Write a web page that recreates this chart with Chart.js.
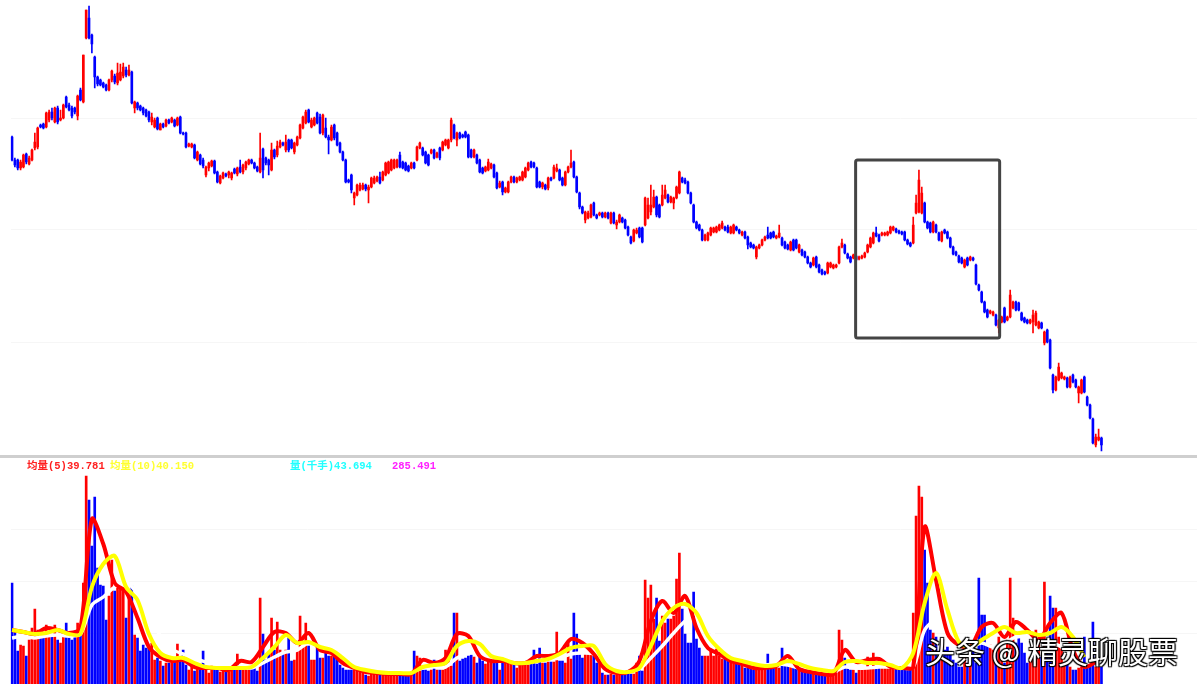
<!DOCTYPE html>
<html>
<head>
<meta charset="utf-8">
<script src="https://cdn.jsdelivr.net/npm/chart.js@4"></script>
<style>
    html, body { margin: 0; padding: 0; background: #fff; }
    #page { position: relative; width: 1197px; height: 686px; overflow: hidden; }
    canvas { position: absolute; left: 0; filter: blur(0.4px); }
    #priceChart { top: 0; }
    #volumeChart { top: 458px; }
    #divider { position: absolute; left: 0; top: 455px; width: 1197px; height: 3px; background: #cfcfcf; }
    .legend { position: absolute; top: 460px; font: bold 10.5px/12px "Liberation Mono", "Noto Sans CJK SC", monospace; white-space: nowrap; }
    #watermark { position: absolute; left: 925px; top: 628px; font: 30px/44px "Noto Sans CJK SC", sans-serif; color: #fff; white-space: nowrap;
        text-shadow: 1px 1px 1px #000, -1px 1px 1px #000, 1px -1px 1px #000, -1px -1px 1px #000; }
</style>
</head>
<body>
<div id="page">
    <canvas id="priceChart" width="1197" height="455"></canvas>
    <div id="divider"></div>
    <canvas id="volumeChart" width="1197" height="226"></canvas>
    <span class="legend" style="left:27px;color:#ff2020">均量(5)39.781</span>
    <span class="legend" style="left:110px;color:#ffff30">均量(10)40.150</span>
    <span class="legend" style="left:290px;color:#20ffff">量(千手)43.694</span>
    <span class="legend" style="left:392px;color:#ff20ff">285.491</span>
    <div id="watermark">头条 <span style="margin-right:8px">@</span>精灵聊股票</div>
</div>
<script>
// Candles. The price axis has no labels, so the units are arbitrary
const opens = [
    318,295,295,287,288,301,291,295,307,308,330,331,328,335,343,333,347,335,337,358,350,
    347,347,339,365,353,417,437,420,398,378,375,372,370,365,375,379,372,375,379,385,
    380,383,347,352,349,347,345,343,333,328,337,325,331,329,335,333,335,330,338,322,
    322,309,308,310,295,300,295,280,287,289,294,283,272,277,281,280,277,286,281,
    288,283,287,291,295,292,288,283,306,297,295,285,305,300,308,312,305,315,315,303,
    310,317,327,332,345,328,330,342,338,322,327,318,315,330,322,312,303,295,275,280,
    257,260,265,266,270,265,268,272,274,278,275,280,282,285,287,288,300,293,292,289,
    287,292,295,307,307,303,300,302,305,298,307,305,310,307,315,330,315,322,320,323,
    320,305,298,300,295,287,284,285,287,290,282,268,273,263,263,273,278,273,275,275,
    278,285,293,292,287,273,268,270,267,277,277,284,285,277,270,283,288,293,278,262,
    248,235,237,238,252,240,240,242,238,242,232,242,230,233,237,235,228,218,214,222,
    227,227,230,237,243,248,258,250,250,257,260,253,252,257,262,277,275,273,262,250,
    233,230,225,215,215,220,223,223,225,227,228,228,222,222,228,225,220,223,218,212,
    210,198,207,210,215,220,222,223,217,218,217,213,210,205,215,215,203,205,203,198,
    192,190,198,190,185,183,182,188,187,188,192,208,210,201,198,197,199,196,197,198,
    203,208,212,222,220,220,220,220,222,225,226,224,223,223,215,212,212,242,243,242,
    252,233,232,223,230,222,214,225,223,217,208,203,199,197,188,197,195,197,190,170,
    163,153,145,142,140,140,127,133,147,135,138,147,153,152,142,137,135,132,133,130,
    127,132,112,125,115,80,65,75,77,76,77,68,80,75,62,62,78,58,50,36,
    10,15,17
];
const closes = [
    295,290,287,293,300,293,297,305,313,327,328,327,342,343,337,347,333,337,350,348,345,
    339,343,359,355,400,445,417,411,378,371,370,368,365,375,384,373,382,383,388,380,
    385,352,353,347,345,342,339,335,338,335,326,331,328,335,332,337,329,337,322,321,
    308,311,311,297,303,291,289,288,292,294,282,273,279,282,279,283,282,282,287,
    283,290,293,295,292,287,284,297,285,292,290,305,298,309,313,310,313,305,307,312,
    318,330,338,343,333,335,337,332,322,340,318,315,328,317,310,303,295,273,273,265,
    262,270,270,270,266,268,277,277,278,272,283,292,293,295,295,295,288,287,285,284,
    292,287,308,312,300,292,290,305,297,302,297,313,315,315,335,317,322,317,318,318,
    298,298,305,292,283,282,288,293,291,278,267,272,263,267,273,278,273,277,278,283,
    287,292,288,288,268,268,272,266,277,275,288,287,275,270,283,288,292,278,263,248,
    242,243,242,250,240,237,242,238,242,237,242,232,233,240,233,227,220,212,225,225,
    218,213,257,250,250,258,240,238,260,265,253,258,257,268,283,273,272,262,252,233,
    227,225,215,220,222,227,227,228,230,232,225,223,228,230,225,222,223,217,210,208,
    207,208,210,215,218,217,217,218,219,222,210,207,206,213,205,207,210,200,198,192,
    188,197,188,183,181,181,192,192,190,190,208,212,202,197,193,200,195,198,199,202,
    210,217,222,219,214,222,222,223,228,228,223,222,221,215,211,209,230,252,275,262,
    233,227,223,233,223,215,223,222,217,208,201,200,193,192,195,190,198,195,171,165,
    153,143,138,144,143,130,135,138,133,138,160,153,145,145,135,133,132,135,140,142,
    133,127,123,113,87,65,78,88,82,78,68,78,73,68,68,75,63,50,37,12,
    18,18,10
];
const highs = [
    319,297,296,295,301,302,299,306,322,328,331,332,343,345,347,348,349,345,351,359,352,
    349,348,360,367,400,445,449,421,399,379,376,373,371,376,385,381,392,391,392,388,
    390,384,354,353,350,348,346,344,342,337,338,332,332,336,336,338,336,338,339,323,
    323,312,312,311,304,301,297,289,293,295,295,284,280,283,282,284,283,287,288,
    295,291,294,296,296,293,289,322,307,298,296,312,306,314,315,313,320,316,316,313,
    319,331,339,345,346,337,338,343,341,341,337,320,330,331,323,313,304,296,276,281,
    263,271,272,272,271,270,278,279,279,283,284,293,294,296,296,296,303,294,293,290,
    293,293,309,313,308,304,301,306,306,303,308,314,316,316,337,331,323,323,321,324,
    321,306,306,301,296,288,289,296,292,291,283,274,274,268,274,279,279,278,279,284,
    288,293,294,293,288,274,273,271,278,278,290,291,286,278,284,289,305,294,279,263,
    249,244,244,251,253,241,243,243,243,243,243,243,235,241,238,236,229,219,226,227,
    228,228,258,257,270,265,259,251,270,270,261,259,258,269,284,278,277,274,263,251,
    234,231,226,221,223,228,228,229,231,234,229,230,229,231,229,226,224,224,219,213,
    211,209,211,216,219,228,223,224,220,230,218,214,211,214,216,216,211,206,204,199,
    193,198,199,191,186,184,193,193,191,191,209,216,211,202,199,201,200,199,200,203,
    211,218,223,228,221,223,223,224,229,229,227,225,224,224,216,213,238,260,285,268,
    253,234,233,234,231,223,224,226,224,218,209,204,200,198,196,198,199,198,191,171,
    164,154,146,145,144,141,136,139,148,139,165,154,154,153,143,138,136,136,145,144,
    134,133,124,126,116,81,79,92,83,79,78,79,81,76,69,76,79,59,51,37,
    21,26,18
];
const lows = [
    294,288,285,285,287,291,290,294,305,306,327,326,327,333,335,332,331,334,336,347,344,
    337,341,335,354,352,416,416,402,367,369,369,367,364,364,373,371,370,374,377,378,
    379,351,342,345,344,340,338,333,330,327,325,325,327,328,331,332,328,329,321,320,
    307,308,307,296,294,290,287,278,284,288,281,272,271,276,278,277,275,281,279,
    282,281,285,290,291,286,283,282,277,290,280,284,296,298,307,309,303,303,306,301,
    309,316,326,331,332,327,329,331,321,320,317,301,314,315,309,302,294,272,272,262,
    250,259,264,265,264,252,267,271,273,271,274,279,281,284,286,287,287,286,284,283,
    286,286,294,306,299,291,289,301,296,297,295,304,309,306,313,316,309,316,317,317,
    297,297,297,291,282,281,283,284,286,277,266,267,260,262,262,272,272,272,274,274,
    277,284,287,287,267,267,266,265,265,274,276,283,274,269,269,282,287,277,262,246,
    241,232,236,237,239,236,239,237,237,236,231,231,226,232,232,226,219,211,213,221,
    217,212,229,236,240,247,238,237,249,256,252,252,246,256,261,272,271,261,251,232,
    226,224,214,214,214,219,222,222,224,226,224,222,221,221,224,221,219,216,206,207,
    206,196,206,209,214,216,216,217,216,217,209,206,205,204,204,206,202,199,197,191,
    187,189,187,182,180,180,181,187,186,187,191,207,201,196,192,196,194,195,196,197,
    202,207,211,218,213,219,219,219,221,224,222,221,220,214,210,208,211,241,242,241,
    232,226,222,222,222,214,213,221,216,207,200,199,192,191,187,189,194,194,170,164,
    152,142,137,141,139,129,122,132,132,134,137,146,144,144,134,132,131,131,122,129,
    126,126,110,112,86,62,64,74,76,75,67,67,72,67,52,61,62,49,36,11,
    8,14,4
];

// Volume per bar
const volumes = [
    101,53,33,39,38,28,44,56,75,54,46,46,59,49,49,59,44,41,49,61,
    46,44,48,61,49,101,208,184,138,187,116,99,98,64,88,124,93,96,96,94,
    66,89,98,49,46,33,39,36,36,41,24,26,23,18,21,21,21,26,40,23,
    34,19,14,22,13,18,15,33,15,11,18,16,16,12,14,14,12,14,
    16,30,16,16,16,16,16,16,13,86,50,24,31,66,34,62,34,31,34,46,
    23,24,34,68,38,61,38,24,24,36,26,26,35,28,28,28,28,19,16,14,
    14,14,14,14,13,11,9,8,11,11,10,10,10,10,11,11,11,
    9,9,11,10,10,10,33,28,26,14,14,13,14,24,14,14,14,34,24,
    18,71,71,23,25,26,28,29,27,21,27,23,20,25,23,23,23,14,21,21,
    21,21,20,16,19,19,19,20,20,34,20,36,21,21,22,22,22,52,23,23,
    21,41,25,71,50,30,26,31,31,31,28,21,20,11,9,9,10,9,9,10,
    10,10,10,10,10,21,28,13,104,86,99,65,86,43,68,61,65,65,68,
    105,131,75,50,41,41,92,45,36,28,28,28,35,28,35,28,25,26,23,23,
    21,21,20,20,16,16,16,14,14,15,15,16,30,16,16,16,16,36,20,20,
    19,18,16,14,14,13,12,12,11,11,11,10,8,11,11,11,11,
    54,44,26,16,14,14,11,14,14,16,27,17,31,16,16,16,19,17,17,16,
    16,16,14,14,14,14,71,168,198,187,134,101,54,51,47,24,27,34,37,31,
    24,21,17,17,27,21,21,41,21,106,69,69,39,39,34,31,47,24,21,
    44,106,66,41,47,41,31,21,27,24,54,47,27,102,44,88,76,76,47,37,
    21,21,17,14,14,16,17,47,19,17,62,17,17,17
];

// Moving averages, one reading for every fourth bar
const maStep = 4;
const ma5 = [
    54,52,50,56,54,51,56,165,140,101,92,66,37,27,23,24,17,16,16,14,
    23,22,37,52,51,41,51,34,31,21,16,12,11,10,10,10,24,21,26,50,
    48,28,23,23,21,21,28,28,31,45,41,30,15,11,12,23,63,83,71,88,
    56,36,30,23,20,16,16,18,28,15,12,10,10,34,22,24,25,17,16,17,
    157,104,51,39,37,57,61,47,62,54,44,61,71,34,17,22
];
const ma10 = [
    54,52,50,51,54,50,50,97,120,128,97,84,50,31,26,26,21,17,16,16,
    16,17,26,37,49,41,42,37,34,26,17,14,12,11,11,11,17,19,21,38,
    43,40,28,25,21,21,23,25,30,36,38,38,20,13,12,16,38,63,76,80,
    71,48,35,26,23,20,18,19,23,20,16,14,13,22,23,21,21,19,16,31,
    81,111,74,42,37,44,51,57,51,52,49,51,57,47,27
];
const maLong = [
    46,48,46,48,49,48,50,79,87,97,102,90,70,48,35,30,26,22,20,18,
    17,16,21,27,32,34,41,37,34,27,21,17,16,14,12,12,16,17,17,26,
    31,31,26,25,23,21,23,25,26,30,31,30,21,16,14,15,26,38,51,63,
    70,58,41,30,23,20,19,20,19,16,15,13,12,17,16,16,17,17,16,17,
    54,64,61,41,37,41,37,41,47,47,44,41,37,24
];

// Faint horizontal rules and the hand-drawn box, in axis units
const priceGrid = [113, 226, 336];
const volumeGrid = [51, 102, 155];
const boxBars = [295.8, 346.3];
const boxPrices = [117, 295];

const upColor = '#ff0000';
const downColor = '#0000ff';
const barSlots = 416;
const labels = Array.from({ length: barSlots }, (_, i) => i);
const candleColors = opens.map((o, i) => closes[i] >= o ? upColor : downColor);

// Turn a reading-per-fourth-bar list into points on the category axis
function maPoints(values) {
    return values.map((v, k) => ({ x: k * maStep, y: v }));
}

function maLine(label, values, color, order, width) {
    return {
        type: 'line',
        label: label,
        data: maPoints(values),
        borderColor: color,
        borderWidth: width,
        pointRadius: 0,
        tension: 0.3,
        order: order
    };
}

function hiddenX() {
    return { display: false, offset: true };
}

function faintY(max, gridValues) {
    return {
        min: 0,
        max: max,
        afterBuildTicks: scale => { scale.ticks = gridValues.map(v => ({ value: v })); },
        ticks: { display: false },
        grid: { color: '#f6f6f6', drawTicks: false },
        border: { display: false }
    };
}

const commonOptions = {
    responsive: false,
    animation: false,
    layout: { padding: { left: 10.6, right: 0, top: 0, bottom: 0 } },
    plugins: { legend: { display: false }, tooltip: { enabled: false } }
};

// Box around the marked stretch of the price chart
const boxPlugin = {
    id: 'markedBox',
    afterDatasetsDraw(chart) {
        const x = chart.scales.x, y = chart.scales.y, ctx = chart.ctx;
        const left = x.getPixelForValue(boxBars[0]);
        const right = x.getPixelForValue(boxBars[1]);
        const top = y.getPixelForValue(boxPrices[1]);
        const bottom = y.getPixelForValue(boxPrices[0]);
        ctx.save();
        ctx.strokeStyle = '#444444';
        ctx.lineWidth = 3;
        ctx.beginPath();
        ctx.roundRect(left, top, right - left, bottom - top, 2);
        ctx.stroke();
        ctx.restore();
    }
};

new Chart(document.getElementById('priceChart'), {
    type: 'bar',
    data: {
        labels: labels,
        datasets: [
            {
                label: 'Range',
                data: lows.map((l, i) => [l, highs[i]]),
                backgroundColor: candleColors,
                barThickness: 1,
                grouped: false,
                order: 2
            },
            {
                label: 'Body',
                data: opens.map((o, i) => [o, closes[i]]),
                backgroundColor: candleColors,
                barThickness: 2,
                grouped: false,
                order: 1
            }
        ]
    },
    options: Object.assign({}, commonOptions, {
        scales: { x: hiddenX(), y: faintY(455, priceGrid) }
    }),
    plugins: [boxPlugin]
});

new Chart(document.getElementById('volumeChart'), {
    type: 'bar',
    data: {
        labels: labels,
        datasets: [
            {
                label: '量(千手)',
                data: volumes,
                backgroundColor: candleColors,
                barThickness: 2,
                order: 4
            },
            maLine('均量(long)', maLong, '#ffffff', 3, 3.5),
            maLine('均量(5)', ma5, '#ff0000', 2, 4),
            maLine('均量(10)', ma10, '#ffff00', 1, 4)
        ]
    },
    options: Object.assign({}, commonOptions, {
        scales: { x: hiddenX(), y: faintY(226, volumeGrid) }
    })
});
</script>
</body>
</html>
